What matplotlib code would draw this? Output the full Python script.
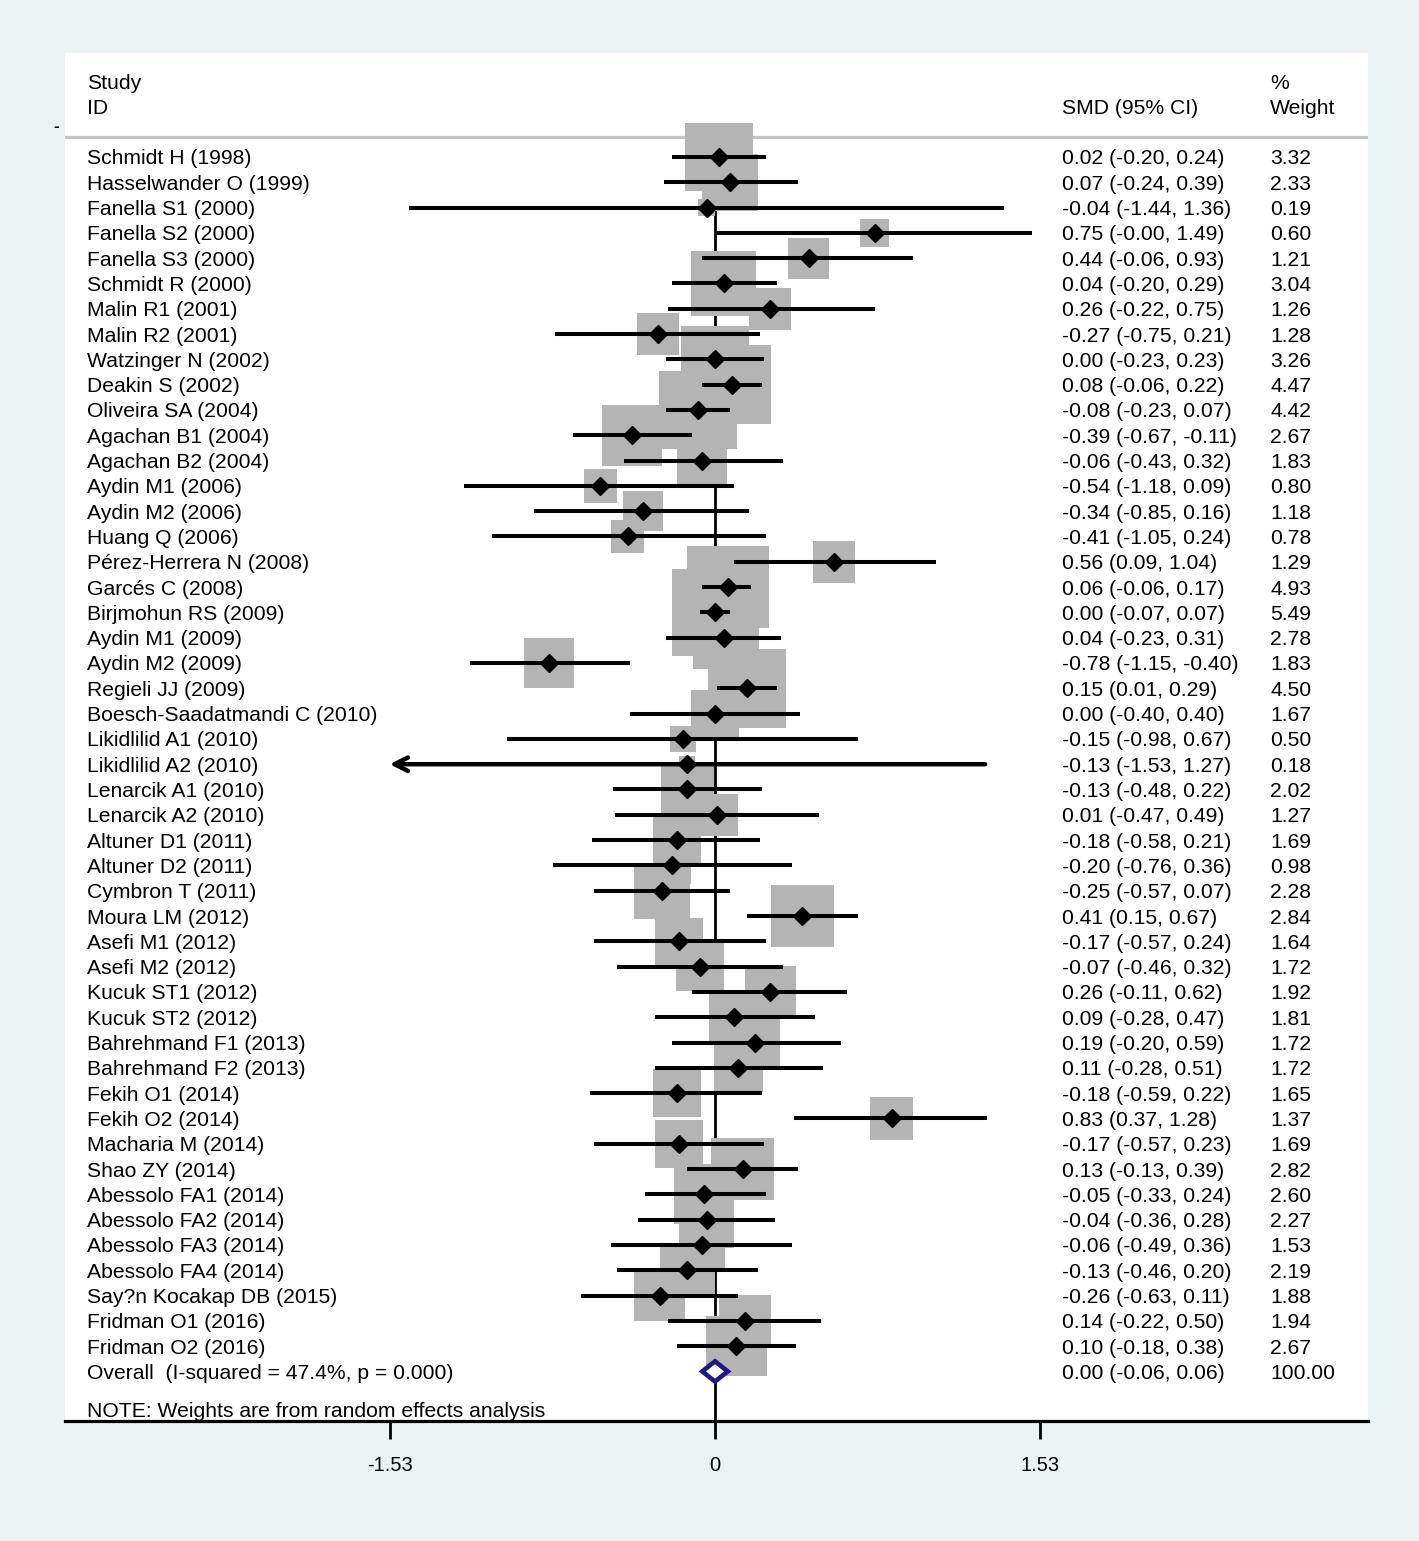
import numpy as np
import matplotlib
matplotlib.use('Agg')
from matplotlib import pyplot as plt

studies = ['Schmidt H (1998)', 'Hasselwander O (1999)', 'Fanella S1 (2000)', 'Fanella S2 (2000)',
           'Fanella S3 (2000)', 'Schmidt R (2000)', 'Malin R1 (2001)', 'Malin R2 (2001)',
           'Watzinger N (2002)', 'Deakin S (2002)', 'Oliveira SA (2004)', 'Agachan B1 (2004)',
           'Agachan B2 (2004)', 'Aydin M1 (2006)', 'Aydin M2 (2006)', 'Huang Q (2006)',
           'Pérez-Herrera N (2008)', 'Garcés C (2008)', 'Birjmohun RS (2009)', 'Aydin M1 (2009)',
           'Aydin M2 (2009)', 'Regieli JJ (2009)', 'Boesch-Saadatmandi C (2010)', 'Likidlilid A1 (2010)',
           'Likidlilid A2 (2010)', 'Lenarcik A1 (2010)', 'Lenarcik A2 (2010)', 'Altuner D1 (2011)',
           'Altuner D2 (2011)', 'Cymbron T (2011)', 'Moura LM (2012)', 'Asefi M1 (2012)',
           'Asefi M2 (2012)', 'Kucuk ST1 (2012)', 'Kucuk ST2 (2012)', 'Bahrehmand F1 (2013)',
           'Bahrehmand F2 (2013)', 'Fekih O1 (2014)', 'Fekih O2 (2014)', 'Macharia M (2014)',
           'Shao ZY (2014)', 'Abessolo FA1 (2014)', 'Abessolo FA2 (2014)', 'Abessolo FA3 (2014)',
           'Abessolo FA4 (2014)', 'Say?n Kocakap DB (2015)', 'Fridman O1 (2016)', 'Fridman O2 (2016)']

smd = [0.02, 0.07, -0.04, 0.75, 0.44, 0.04, 0.26, -0.27, 0.00, 0.08, -0.08, -0.39,
       -0.06, -0.54, -0.34, -0.41, 0.56, 0.06, 0.00, 0.04, -0.78, 0.15, 0.00, -0.15,
       -0.13, -0.13, 0.01, -0.18, -0.20, -0.25, 0.41, -0.17, -0.07, 0.26, 0.09, 0.19,
       0.11, -0.18, 0.83, -0.17, 0.13, -0.05, -0.04, -0.06, -0.13, -0.26, 0.14, 0.10]
ci_lo = [-0.20, -0.24, -1.44, -0.0, -0.06, -0.20, -0.22, -0.75, -0.23, -0.06, -0.23, -0.67,
         -0.43, -1.18, -0.85, -1.05, 0.09, -0.06, -0.07, -0.23, -1.15, 0.01, -0.40, -0.98,
         -1.53, -0.48, -0.47, -0.58, -0.76, -0.57, 0.15, -0.57, -0.46, -0.11, -0.28, -0.20,
         -0.28, -0.59, 0.37, -0.57, -0.13, -0.33, -0.36, -0.49, -0.46, -0.63, -0.22, -0.18]
ci_hi = [0.24, 0.39, 1.36, 1.49, 0.93, 0.29, 0.75, 0.21, 0.23, 0.22, 0.07, -0.11,
         0.32, 0.09, 0.16, 0.24, 1.04, 0.17, 0.07, 0.31, -0.40, 0.29, 0.40, 0.67,
         1.27, 0.22, 0.49, 0.21, 0.36, 0.07, 0.67, 0.24, 0.32, 0.62, 0.47, 0.59,
         0.51, 0.22, 1.28, 0.23, 0.39, 0.24, 0.28, 0.36, 0.20, 0.11, 0.50, 0.38]
weight = [3.32, 2.33, 0.19, 0.60, 1.21, 3.04, 1.26, 1.28, 3.26, 4.47, 4.42, 2.67,
          1.83, 0.80, 1.18, 0.78, 1.29, 4.93, 5.49, 2.78, 1.83, 4.50, 1.67, 0.50,
          0.18, 2.02, 1.27, 1.69, 0.98, 2.28, 2.84, 1.64, 1.72, 1.92, 1.81, 1.72,
          1.72, 1.65, 1.37, 1.69, 2.82, 2.60, 2.27, 1.53, 2.19, 1.88, 1.94, 2.67]

overall = [0.00, -0.06, 0.06]   # estimate, lower, upper
overall_weight = 100.00
i_squared = 47.4
p_value = 0.000
ticks = [-1.53, 0, 1.53]

plt.rcParams['font.family'] = ['Liberation Sans', 'DejaVu Sans']
plt.rcParams['font.size'] = 15.2

W, H = 1419, 1541
fig = plt.figure(figsize=(W / 100, H / 100), dpi=100, facecolor='#eaf2f3')
ax = fig.add_axes([65 / W, 120 / H, 1303 / W, 1368 / H])
ax.set_facecolor('white')

rows = np.arange(len(studies))
ov_row = len(studies)

ax.set_xlim(-3.056, 3.070)
ax.set_ylim(49.96, -4.11)

# header and separator
tr = ax.get_yaxis_transform()
col_study, col_ci, col_w = 0.0169, 0.7652, 0.9248
va = 'center_baseline'
ax.text(col_study, -3.0, 'Study', transform=tr, va=va)
ax.text(col_study, -2.0, 'ID', transform=tr, va=va)
ax.text(col_ci, -2.0, 'SMD (95% CI)', transform=tr, va=va)
ax.text(col_w, -3.0, '%', transform=tr, va=va)
ax.text(col_w, -2.0, 'Weight', transform=tr, va=va)
ax.axhline(-0.79, color='#c4c4c4', lw=2.3, zorder=0.5)

# null line
ax.plot([0, 0], [-0.6, 49.96], color='black', lw=2, zorder=1)

# weight boxes (area ~ weight)
ax.scatter(smd, rows, s=715 * np.array(weight), marker='s', color='#b4b4b4',
           linewidths=0, zorder=2)

# confidence intervals
for r, lo, hi in zip(rows, ci_lo, ci_hi):
    if lo <= ticks[0]:
        ax.annotate('', xy=(lo, r), xytext=(hi, r),
                    arrowprops=dict(arrowstyle='->', color='black', lw=3.2,
                                    mutation_scale=24, shrinkA=0, shrinkB=0))
    else:
        ax.plot([lo, hi], [r, r], color='black', lw=2.9, solid_capstyle='butt', zorder=3)

ax.plot(smd, rows, linestyle='none', marker='D', color='black', ms=9, zorder=4)

# overall diamond
est, olo, ohi = overall
ax.fill([olo, est, ohi, est, olo], [ov_row, ov_row - 0.4, ov_row, ov_row + 0.4, ov_row],
        facecolor='white', edgecolor='#1a1a80', lw=3.3, zorder=5)

# text columns
for r, name, m, lo, hi, w in zip(rows, studies, smd, ci_lo, ci_hi, weight):
    ax.text(col_study, r, name, transform=tr, va=va)
    ax.text(col_ci, r, f'{m:.2f} ({lo:.2f}, {hi:.2f})', transform=tr, va=va)
    ax.text(col_w, r, f'{w:.2f}', transform=tr, va=va)

ax.text(col_study, ov_row, f'Overall  (I-squared = {i_squared:.1f}%, p = {p_value:.3f})',
        transform=tr, va=va)
ax.text(col_ci, ov_row, f'{est:.2f} ({olo:.2f}, {ohi:.2f})', transform=tr, va=va)
ax.text(col_w, ov_row, f'{overall_weight:.2f}', transform=tr, va=va)
ax.text(col_study, ov_row + 1.5, 'NOTE: Weights are from random effects analysis',
        transform=tr, va=va)

# axis
for s in ['top', 'left', 'right']:
    ax.spines[s].set_visible(False)
ax.spines['bottom'].set_linewidth(2.3)
ax.set_xticks(ticks)
ax.set_xticklabels(['-1.53', '0', '1.53'])
ax.tick_params(axis='x', length=13, width=2, pad=12, labelsize=14.5)
ax.set_yticks([])

fig.text(56 / W, 1 - 127 / H, '-', ha='center', va='center', fontsize=12, fontweight='bold')

fig.savefig('out.png', dpi=100, facecolor=fig.get_facecolor())
